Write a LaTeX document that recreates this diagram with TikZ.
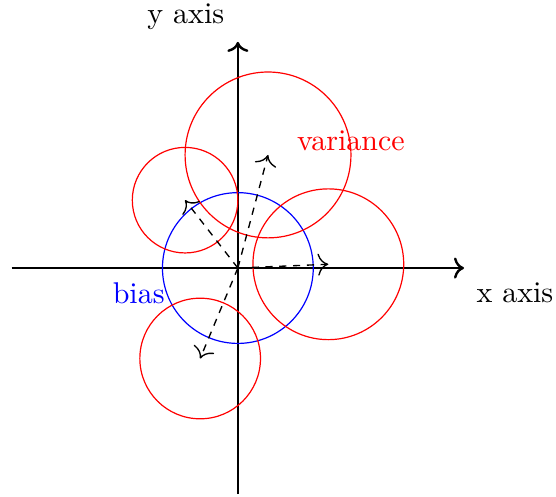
\documentclass[tikz,border=0pt]{standalone}
\usetikzlibrary{arrows.meta}
\begin{document}
\begin{tikzpicture}[x=0.4415cm,y=0.4415cm,
  axis/.style={thick,->},
  vararrow/.style={line width=0.45pt,dash pattern=on 2.4pt off 2.2pt,-{To[scale=1.35]}},
  varcircle/.style={red},
  biascircle/.style={blue}]
\useasboundingbox (-6.31,-6.07) rectangle (8.44,7.11);
\coordinate (O) at (0,0);
\coordinate (xl) at (-6,0);
\coordinate (xr) at (6,0);
\coordinate (yb) at (0,-6);
\coordinate (yt) at (0,6);
\coordinate (c1) at (0.8,3);
\coordinate (c2) at (-1.4,1.8);
\coordinate (c3) at (2.4,0.1);
\coordinate (c4) at (-1,-2.4);
\draw[axis] (xl) -- (xr);
\draw[axis] (yb) -- (yt);
\node (xlab) at (7.35,-0.66) {x axis};
\node (ylab) at (-1.38,6.68) {y axis};
\draw[biascircle] (O) circle (2);
\draw[varcircle] (c1) circle (2.2);
\draw[varcircle] (c2) circle (1.4);
\draw[varcircle] (c3) circle (2);
\draw[varcircle] (c4) circle (1.6);
\draw[vararrow] (O) -- (c1);
\draw[vararrow] (O) -- (c2);
\draw[vararrow] (O) -- (c3);
\draw[vararrow] (O) -- (c4);
\node[text=red] (var) at (3.0,3.37) {variance};
\node[text=blue] (bias) at (-2.63,-0.66) {bias};
\end{tikzpicture}
\end{document}
